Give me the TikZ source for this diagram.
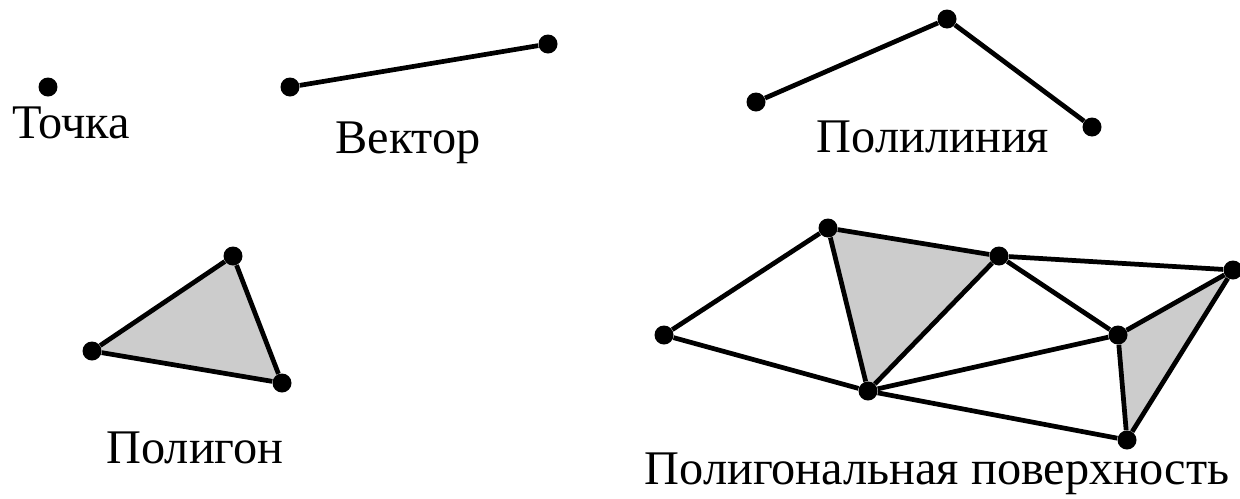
\documentclass[tikz,border=0pt]{standalone}
\usepackage{fontspec}
\setmainfont{Liberation Serif}
\usetikzlibrary{backgrounds}

\begin{document}
\begin{tikzpicture}[
  x=0.02cm, y=-0.02cm,
  vtx/.style={circle, fill=black, inner sep=0pt, minimum size=3.8mm},
  edg/.style={line width=2.7pt, draw=black},
  shd/.style={fill=black!20},
  lbl/.style={font=\fontsize{27.5}{32}\selectfont, inner sep=0pt, anchor=base},
]
\useasboundingbox (0,0) rectangle (1240,498);

% point
\node[vtx] (pt) at (48,87) {};
\node[lbl] (ptlbl) at (71,138) {Точка};

% vector
\node[vtx] (va) at (290,87) {};
\node[vtx] (vb) at (548,44) {};
\draw[edg] (va) -- (vb);
\node[lbl] (veclbl) at (408,153) {Вектор};

% polyline
\node[vtx] (la) at (756,102) {};
\node[vtx] (lb) at (947,19) {};
\node[vtx] (lc) at (1092,127) {};
\draw[edg] (la) -- (lb) -- (lc);
\node[lbl] (linlbl) at (933,152) {Полилиния};

% polygon
\node[vtx] (ga) at (233,256) {};
\node[vtx] (gb) at (92,351) {};
\node[vtx] (gc) at (282,383) {};
\begin{scope}[on background layer]
  \fill[shd] (ga.center) -- (gb.center) -- (gc.center) -- cycle;
\end{scope}
\draw[edg] (ga) -- (gb) -- (gc) -- (ga);
\node[lbl] (gonlbl) at (195,463) {Полигон};

% polygonal surface
\node[vtx] (sa) at (664,335) {};
\node[vtx] (sb) at (828,228) {};
\node[vtx] (sc) at (999,256) {};
\node[vtx] (sd) at (1233,270) {};
\node[vtx] (se) at (1118,335) {};
\node[vtx] (sf) at (868,391) {};
\node[vtx] (sg) at (1127,440) {};
\begin{scope}[on background layer]
  \fill[shd] (sb.center) -- (sc.center) -- (sf.center) -- cycle;
  \fill[shd] (se.center) -- (sd.center) -- (sg.center) -- cycle;
\end{scope}
\draw[edg] (sa) -- (sb);
\draw[edg] (sa) -- (sf);
\draw[edg] (sb) -- (sf);
\draw[edg] (sb) -- (sc);
\draw[edg] (sc) -- (sf);
\draw[edg] (sc) -- (se);
\draw[edg] (sc) -- (sd);
\draw[edg] (sd) -- (se);
\draw[edg] (sd) -- (sg);
\draw[edg] (se) -- (sg);
\draw[edg] (sf) -- (se);
\draw[edg] (sf) -- (sg);
\node[lbl] (srflbl) at (937,484) {Полигональная поверхность};
\end{tikzpicture}
\end{document}
